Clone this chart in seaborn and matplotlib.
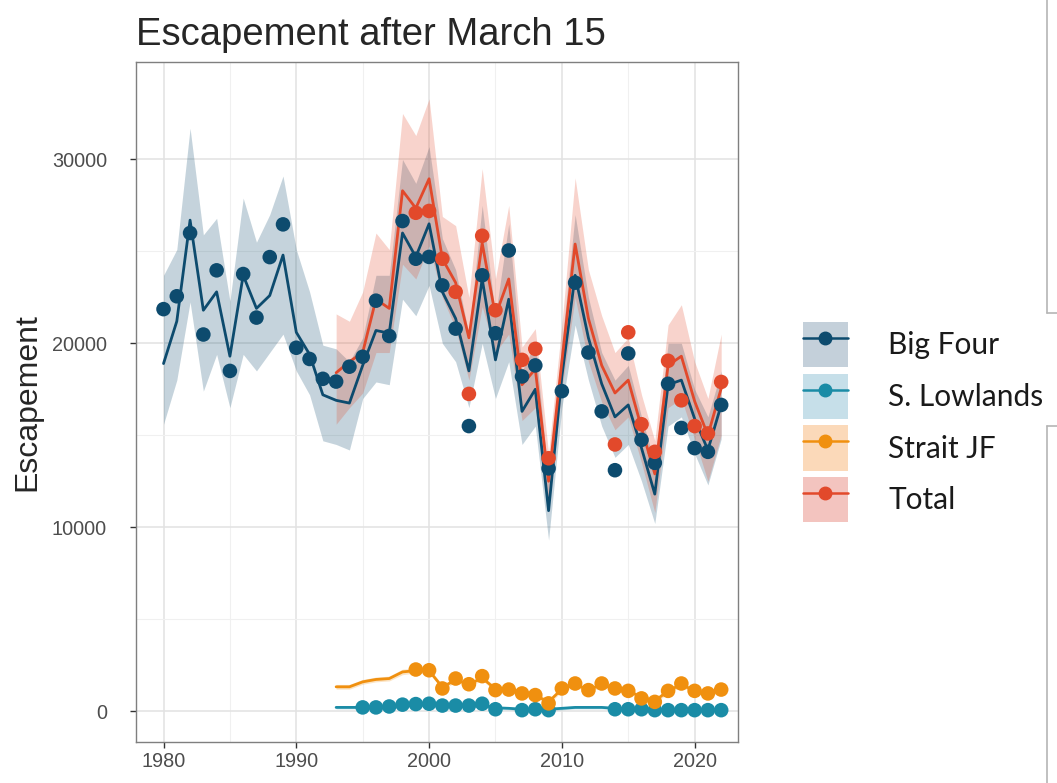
import numpy as np
import pandas as pd
import matplotlib
matplotlib.use("Agg")
import matplotlib.pyplot as plt
import seaborn as sns
from matplotlib.patches import Patch
from matplotlib.lines import Line2D
from matplotlib.legend_handler import HandlerTuple

# ---------------- data (thousands of fish) ----------------
years = list(range(1980, 2023))

bf_fit = [18.9, 21.2, 26.7, 21.8, 22.8, 19.3, 23.7, 21.9, 22.6, 24.8,
          20.6, 19.4, 17.2, 16.9, 16.75, 18.8, 20.7, 20.55, 26.0, 24.7,
          26.5, 22.8, 21.35, 18.5, 23.5, 19.1, 22.4, 16.3, 17.5, 10.9,
          18.2, 23.7, 20.3, 17.8, 16.0, 16.65, 14.3, 11.8, 17.75, 18.0,
          15.9, 14.2, 16.65]
bf_hi = [23.7, 25.1, 31.7, 25.9, 26.8, 22.3, 27.9, 25.5, 27.0, 29.1,
         25.1, 22.8, 19.9, 19.7, 19.0, 20.3, 23.7, 23.7, 30.0, 28.7,
         30.7, 25.7, 24.0, 20.5, 27.5, 21.5, 26.5, 18.5, 20.0, 12.5,
         20.0, 27.0, 22.5, 19.5, 18.0, 18.8, 16.0, 13.5, 20.0, 20.0,
         17.5, 16.0, 18.5]
bf_lo = [15.6, 18.0, 22.25, 17.4, 19.4, 16.5, 19.4, 18.5, 19.5, 20.5,
         18.5, 17.2, 14.7, 14.5, 14.2, 17.0, 17.9, 17.75, 22.4, 21.5,
         23.15, 20.0, 19.0, 16.5, 20.0, 17.0, 19.0, 14.5, 15.5, 9.3,
         16.5, 21.0, 18.0, 15.5, 13.8, 14.5, 12.5, 10.2, 15.5, 16.0,
         14.0, 12.3, 14.8]
bf_obs = [21.86, 22.56, 26.0, 20.48, 23.97, 18.5, 23.77, 21.4, 24.69, 26.47,
          19.76, 19.15, 18.07, 17.92, 18.73, 19.27, 22.32, 20.4, 26.65, 24.6,
          24.7, 23.15, 20.8, 15.5, 23.7, 20.55, 25.05, 18.2, 18.8, 13.2,
          17.4, 23.3, 19.5, 16.3, 13.1, 19.45, 14.75, 13.5, 17.8, 15.4,
          14.3, 14.1, 16.65]

yrs_fit2 = list(range(1993, 2023))
tot_fit = [18.4, 19.0, 19.5, 22.4, 21.9, 28.3, 27.35, 28.95, 24.6, 23.3,
           20.3, 25.45, 21.5, 23.5, 17.75, 18.6, 12.5, 19.0, 25.4, 21.35,
           18.8, 17.3, 18.0, 15.4, 12.9, 18.8, 19.3, 16.85, 15.0, 17.55]
tot_hi = [21.6, 21.2, 22.8, 26.0, 25.1, 32.5, 31.3, 33.3, 26.9, 26.4,
          22.5, 29.5, 23.5, 27.5, 19.8, 20.8, 14.0, 21.0, 29.0, 24.0,
          21.5, 19.5, 20.3, 17.2, 14.7, 21.0, 22.1, 19.0, 17.0, 20.5]
tot_lo = [15.6, 16.5, 17.3, 19.5, 19.5, 24.3, 23.5, 25.3, 22.5, 20.8,
          18.0, 22.0, 19.5, 20.5, 15.8, 16.5, 11.0, 17.5, 22.5, 19.0,
          16.8, 15.3, 16.0, 13.5, 10.8, 16.5, 17.0, 14.8, 12.5, 15.0]
tot_obs_years = [1999, 2000, 2001, 2002, 2003, 2004, 2005, 2007, 2008, 2009,
                 2014, 2015, 2016, 2017, 2018, 2019, 2020, 2021, 2022]
tot_obs = [27.1, 27.2, 24.6, 22.8, 17.25, 25.85, 21.8, 19.1, 19.7, 13.75,
           14.5, 20.6, 15.6, 14.1, 19.05, 16.9, 15.5, 15.1, 17.9]

jf_fit = [1.32, 1.32, 1.59, 1.72, 1.77, 2.13, 2.2, 2.2, 1.3, 1.7,
          1.45, 1.8, 1.2, 1.15, 1.0, 0.85, 0.5, 1.2, 1.45, 1.15,
          1.45, 1.2, 1.1, 0.75, 0.55, 1.1, 1.45, 1.1, 0.95, 1.15]
jf_hi = [1.45, 1.45, 1.72, 1.85, 1.9, 2.28, 2.33, 2.33, 1.43, 1.83,
         1.58, 1.93, 1.33, 1.28, 1.13, 0.98, 0.63, 1.33, 1.58, 1.28,
         1.58, 1.33, 1.23, 0.88, 0.68, 1.23, 1.58, 1.23, 1.08, 1.28]
jf_lo = [1.19, 1.19, 1.46, 1.59, 1.64, 1.98, 2.07, 2.07, 1.17, 1.57,
         1.32, 1.67, 1.07, 1.02, 0.87, 0.72, 0.37, 1.07, 1.32, 1.02,
         1.32, 1.07, 0.97, 0.62, 0.42, 0.97, 1.32, 0.97, 0.82, 1.02]
jf_obs_years = list(range(1999, 2023))
jf_obs = [2.26, 2.22, 1.23, 1.77, 1.46, 1.9, 1.14, 1.17, 0.96, 0.87,
          0.42, 1.23, 1.5, 1.14, 1.5, 1.23, 1.1, 0.69, 0.5, 1.1,
          1.5, 1.1, 0.96, 1.17]

sl_fit = [0.2, 0.2, 0.2, 0.22, 0.25, 0.3, 0.32, 0.33, 0.3, 0.3,
          0.3, 0.32, 0.18, 0.15, 0.1, 0.1, 0.1, 0.15, 0.2, 0.2,
          0.2, 0.15, 0.1, 0.1, 0.08, 0.06, 0.06, 0.06, 0.05, 0.05]
sl_hi = [0.28, 0.28, 0.28, 0.3, 0.33, 0.38, 0.4, 0.41, 0.38, 0.38,
         0.38, 0.4, 0.26, 0.23, 0.18, 0.18, 0.18, 0.23, 0.28, 0.28,
         0.28, 0.23, 0.18, 0.18, 0.16, 0.14, 0.14, 0.14, 0.13, 0.13]
sl_lo = [0.12, 0.12, 0.12, 0.14, 0.17, 0.22, 0.24, 0.25, 0.22, 0.22,
         0.22, 0.24, 0.1, 0.07, 0.02, 0.02, 0.02, 0.07, 0.12, 0.12,
         0.12, 0.07, 0.02, 0.02, 0.0, 0.0, 0.0, 0.0, 0.0, 0.0]
sl_obs_years = [1995, 1996, 1997, 1998, 1999, 2000, 2001, 2002, 2003, 2004,
                2005, 2007, 2008, 2009, 2014, 2015, 2016, 2017, 2018, 2019,
                2020, 2021, 2022]
sl_obs = [0.2, 0.2, 0.25, 0.35, 0.38, 0.4, 0.3, 0.3, 0.3, 0.4,
          0.1, 0.05, 0.1, 0.05, 0.1, 0.1, 0.1, 0.05, 0.05, 0.05,
          0.05, 0.05, 0.05]

groups = ["Big Four", "S. Lowlands", "Strait JF", "Total"]
colors = {"Big Four": "#0d4b6e", "S. Lowlands": "#1a8ca6",
          "Strait JF": "#f0900f", "Total": "#e2492b"}
key_fill = {"Big Four": "#c4d0da", "S. Lowlands": "#c6dfe9",
            "Strait JF": "#fbd9b9", "Total": "#f3c4bf"}

# ---------------- tidy tables ----------------
fits = pd.concat([
    pd.DataFrame({"year": years, "fit": bf_fit, "lo": bf_lo, "hi": bf_hi, "group": "Big Four"}),
    pd.DataFrame({"year": yrs_fit2, "fit": sl_fit, "lo": sl_lo, "hi": sl_hi, "group": "S. Lowlands"}),
    pd.DataFrame({"year": yrs_fit2, "fit": jf_fit, "lo": jf_lo, "hi": jf_hi, "group": "Strait JF"}),
    pd.DataFrame({"year": yrs_fit2, "fit": tot_fit, "lo": tot_lo, "hi": tot_hi, "group": "Total"}),
], ignore_index=True)
for c in ["fit", "lo", "hi"]:
    fits[c] = fits[c] * 1000

obs = pd.concat([
    pd.DataFrame({"year": years, "val": bf_obs, "group": "Big Four"}),
    pd.DataFrame({"year": sl_obs_years, "val": sl_obs, "group": "S. Lowlands"}),
    pd.DataFrame({"year": jf_obs_years, "val": jf_obs, "group": "Strait JF"}),
    pd.DataFrame({"year": tot_obs_years, "val": tot_obs, "group": "Total"}),
], ignore_index=True)
obs["val"] = obs["val"] * 1000

# ---------------- plot ----------------
sns.set_theme(style="white")
plt.rcParams["font.family"] = ["Liberation Sans", "DejaVu Sans"]

fig = plt.figure(figsize=(10.57, 7.83), dpi=100)
ax = fig.add_axes([0.1287, 0.0524, 0.698 - 0.1287, 0.9208 - 0.0524])

for g in groups:
    d = fits[fits.group == g]
    ax.fill_between(d["year"], d["lo"], d["hi"], color=colors[g], alpha=0.24,
                    linewidth=0, zorder=2)

sns.lineplot(data=fits, x="year", y="fit", hue="group", hue_order=groups,
             palette=colors, linewidth=2.0, legend=False, ax=ax, zorder=3)
sns.scatterplot(data=obs, x="year", y="val", hue="group", hue_order=groups,
                palette=colors, s=110, linewidth=0, legend=False, ax=ax, zorder=4)

ax.set_xlim(1977.93, 2023.25)
ax.set_ylim(-1680, 35300)
ax.set_xticks([1980, 1990, 2000, 2010, 2020])
ax.set_xticks([1985, 1995, 2005, 2015], minor=True)
ax.set_yticks([0, 10000, 20000, 30000])
ax.set_yticks([5000, 15000, 25000], minor=True)
ax.grid(which="major", color="#e2e2e2", linewidth=1.1)
ax.grid(which="minor", color="#f0f0f0", linewidth=0.8)
ax.set_axisbelow(True)
for s in ax.spines.values():
    s.set_color("#7f7f7f")
    s.set_linewidth(1.0)
ax.tick_params(axis="both", which="major", length=4, width=1, color="#333333",
               labelsize=14.3, labelcolor="#4d4d4d", direction="out",
               bottom=True, left=True)
ax.tick_params(axis="y", which="major", pad=17)
ax.tick_params(axis="x", which="major", pad=3)
ax.tick_params(which="minor", length=0)
ax.set_xlabel("")
ax.set_ylabel("Escapement", fontsize=23, color="#262626", labelpad=7)
ax.set_title("Escapement after March 15", fontsize=27.5, color="#262626",
             loc="left", pad=12, x=0.0)

handles = [(Patch(facecolor=key_fill[g], edgecolor="none"),
            Line2D([], [], color=colors[g], marker="o", markersize=9, linewidth=1.8))
           for g in groups]
leg = fig.legend(handles, groups, loc="upper left",
                 bbox_to_anchor=(0.7597, 0.5888), frameon=False,
                 handler_map={tuple: HandlerTuple(ndivide=1, pad=0)},
                 prop={"family": "Lato", "size": 21.5},
                 handlelength=1.5, handleheight=1.95, labelspacing=0.22,
                 handletextpad=1.35, borderpad=0, borderaxespad=0)
for t in leg.get_texts():
    t.set_color("#1a1a1a")

# screenshot frame fragments at the right edge
fc = "#b5b5b5"
fig.add_artist(Line2D([1047 / 1057, 1047 / 1057], [1.0, 1 - 313 / 783], color=fc, lw=1.2))
fig.add_artist(Line2D([1047 / 1057, 1.0], [1 - 313 / 783, 1 - 313 / 783], color=fc, lw=1.2))
fig.add_artist(Line2D([1047 / 1057, 1.0], [1 - 426 / 783, 1 - 426 / 783], color=fc, lw=1.2))
fig.add_artist(Line2D([1047 / 1057, 1047 / 1057], [1 - 426 / 783, 0.0], color=fc, lw=1.2))

fig.savefig("out.png", dpi=100)
